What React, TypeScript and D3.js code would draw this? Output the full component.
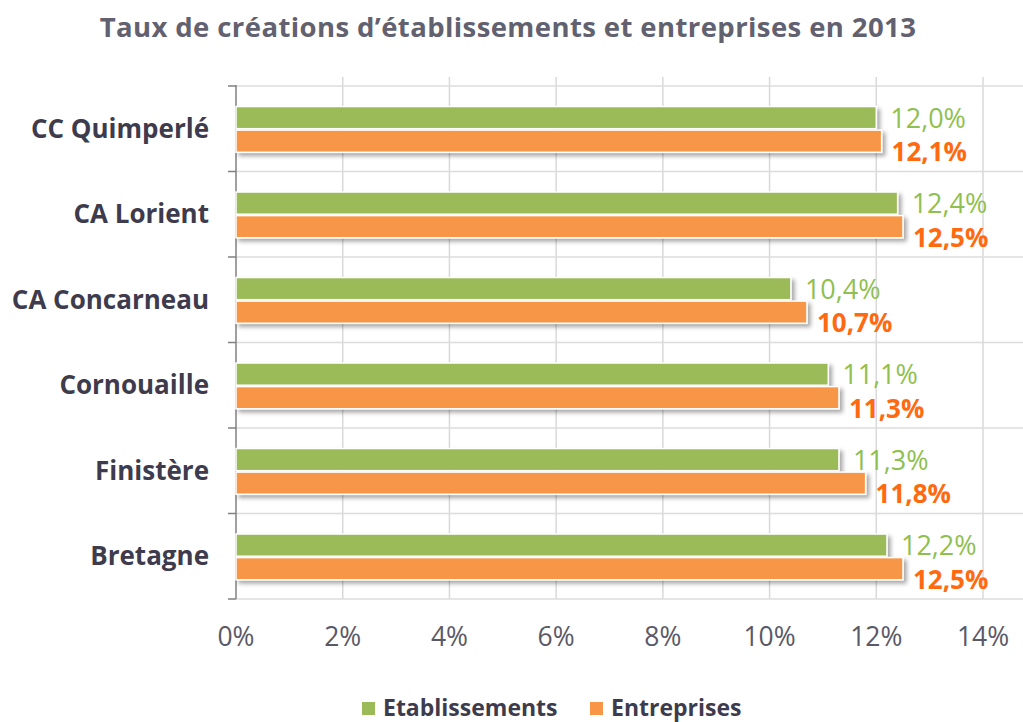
import React from "react";
import * as d3 from "d3";

const categories = ["CC Quimperlé", "CA Lorient", "CA Concarneau", "Cornouaille", "Finistère", "Bretagne"];
const etablissements = [12.0, 12.4, 10.4, 11.1, 11.3, 12.2];
const entreprises = [12.1, 12.5, 10.7, 11.3, 11.8, 12.5];
const seriesNames = ["Etablissements", "Entreprises"];
const xTicks = [0, 2, 4, 6, 8, 10, 12, 14];
const title = "Taux de créations d’établissements et entreprises en 2013";

const W = 1023;
const H = 722;
const FONT = "'Open Sans', 'DejaVu Sans', sans-serif";
const GREEN = "#9bbb59";
const ORANGE = "#f79646";
const GREEN_TXT = "#8fbf4f";
const ORANGE_TXT = "#ff6a10";
const DARK = "#3d3b4c";

const fmt = (v: number) => v.toFixed(1).replace(".", ",") + "%";

export default function App() {
  const left = 236;
  const top = 86;
  const bottom = 599;
  const x = d3.scaleLinear().domain([0, 14]).range([left, 983]);
  const y = d3.scaleBand<string>().domain(categories).range([top, bottom]).paddingInner(0).paddingOuter(0);
  const bw = y.bandwidth();
  const inner = d3
    .scaleBand<string>()
    .domain(seriesNames)
    .range([bw * 0.24, bw * 0.775])
    .paddingInner(0.06);
  const values = [etablissements, entreprises];
  const fills = [GREEN, ORANGE];
  const txtFills = [GREEN_TXT, ORANGE_TXT];
  const boundaries = [...categories.map((c) => y(c) as number), bottom];

  return (
    <svg width={W} height={H} style={{ position: "absolute", left: 0, top: 0, background: "#fff" }}>
      <defs>
        <filter id="shadow" x="-5%" y="-30%" width="115%" height="180%">
          <feDropShadow dx="3" dy="3" stdDeviation="2" floodColor="#000" floodOpacity="0.35" />
        </filter>
      </defs>
      <rect width={W} height={H} fill="#fff" />
      <text
        x={508}
        y={37}
        textAnchor="middle"
        fontFamily={FONT}
        fontWeight={700}
        fontSize={27.5}
        letterSpacing={0.4}
        fill="#62616f"
      >
        {title}
      </text>

      {/* vertical gridlines */}
      {xTicks.slice(1).map((t) => (
        <line key={"gv" + t} x1={x(t)} x2={x(t)} y1={77} y2={bottom} stroke="#d9d9d9" strokeWidth={1.5} />
      ))}
      {/* horizontal gridlines */}
      {boundaries.map((b, i) => (
        <line key={"gh" + i} x1={left} x2={W} y1={b} y2={b} stroke="#dcdcdc" strokeWidth={1.5} />
      ))}
      {/* axis */}
      <line x1={left} x2={left} y1={top - 1} y2={bottom} stroke="#808080" strokeWidth={1.5} />
      {boundaries.map((b, i) => (
        <line key={"tk" + i} x1={left - 8} x2={left} y1={b} y2={b} stroke="#808080" strokeWidth={1.5} />
      ))}

      {/* category labels */}
      {categories.map((c) => (
        <text
          key={"cl" + c}
          x={209}
          y={(y(c) as number) + bw / 2 + 9}
          textAnchor="end"
          fontFamily={FONT}
          fontWeight={700}
          fontSize={26}
          fill={DARK}
        >
          {c}
        </text>
      ))}

      {/* bars */}
      {categories.map((c, i) => (
        <g key={"bars" + c}>
          {seriesNames.map((s, k) => {
            const v = values[k][i];
            const y0 = (y(c) as number) + (inner(s) as number);
            return (
              <rect
                key={s}
                x={x(0)}
                y={y0}
                width={x(v) - x(0)}
                height={inner.bandwidth()}
                fill={fills[k]}
                stroke="#fff"
                strokeWidth={1.5}
                filter="url(#shadow)"
              />
            );
          })}
        </g>
      ))}

      {/* value labels */}
      {categories.map((c, i) => (
        <g key={"vl" + c}>
          {seriesNames.map((s, k) => {
            const v = values[k][i];
            const y0 = (y(c) as number) + (inner(s) as number) + inner.bandwidth();
            return (
              <text
                key={s}
                x={x(v) + (k === 0 ? 14 : 10)}
                y={y0 + (k === 0 ? -1 : 9)}
                fontFamily={FONT}
                fontWeight={k === 0 ? 400 : 700}
                fontSize={k === 0 ? 27 : 26}
                fill={txtFills[k]}
              >
                {fmt(v)}
              </text>
            );
          })}
        </g>
      ))}

      {/* x tick labels */}
      {xTicks.map((t) => (
        <text key={"xt" + t} x={x(t)} y={646} textAnchor="middle" fontFamily={FONT} fontSize={26.5} fill="#5a5967">
          {t + "%"}
        </text>
      ))}

      {/* legend */}
      {seriesNames.map((s, k) => {
        const lx = k === 0 ? 362 : 590;
        return (
          <g key={"lg" + s}>
            <rect x={lx} y={702} width={13} height={13} fill={fills[k]} />
            <text x={lx + 21} y={716} fontFamily={FONT} fontWeight={700} fontSize={23} fill={DARK}>
              {s}
            </text>
          </g>
        );
      })}
    </svg>
  );
}
